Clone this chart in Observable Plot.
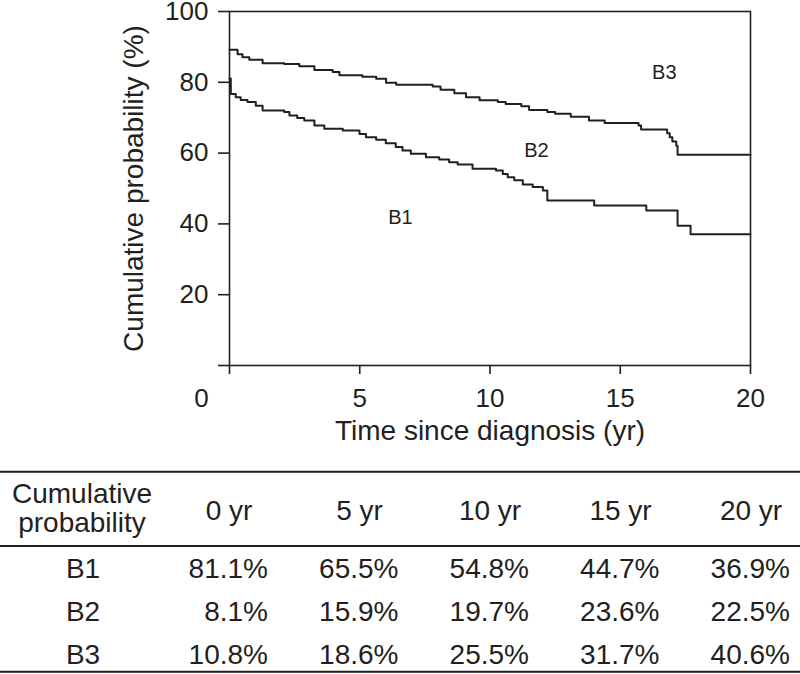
<!DOCTYPE html>
<html>
<head>
<meta charset="utf-8">
<script src="https://cdn.jsdelivr.net/npm/d3@7"></script>
<script src="https://cdn.jsdelivr.net/npm/@observablehq/plot@0.6"></script>
<style>
  html, body { margin: 0; padding: 0; background: #fff; }
  #chart svg, #table svg { display: block; }
</style>
</head>
<body>
<div id="chart"></div>
<div id="table"></div>
<script>
// ---- Data ----
const xTicks = [0, 5, 10, 15, 20];
const yTicks = [0, 20, 40, 60, 80, 100];

// Lower step curve (boundary B1 / B2)
const lowerT = [0, 0.05, 0.24, 0.43, 0.69, 1.01, 1.27, 2.1, 2.3, 2.6, 2.87, 3.26, 3.64, 4.35, 4.99, 5.24, 5.63, 6.0, 6.38, 6.64, 6.96, 7.54, 8.05, 8.43, 8.76, 9.33, 10.23, 10.49, 10.68, 10.93, 11.26, 11.64, 12.03, 12.2, 14.0, 16.0, 17.2, 17.7, 20];
const lowerV = [81.1, 76.7, 75.8, 75.0, 74.4, 73.4, 72.0, 71.6, 70.6, 69.9, 69.2, 67.8, 66.9, 66.4, 65.4, 64.5, 63.8, 62.8, 61.7, 60.7, 59.8, 58.8, 58.2, 57.4, 56.8, 55.6, 55.1, 54.1, 53.2, 52.3, 51.1, 50.4, 49.4, 46.6, 45.2, 43.8, 39.5, 37.1, 37.1];

// Upper step curve (boundary B2 / B3)
const upperT = [0, 0.31, 0.5, 0.76, 1.27, 2.1, 2.68, 3.26, 3.96, 4.22, 5.1, 5.63, 6.01, 6.4, 7.8, 8.1, 8.63, 9.08, 9.6, 10.3, 10.6, 11.2, 11.5, 12.2, 12.5, 13.1, 13.8, 14.4, 15.7, 15.8, 16.8, 16.9, 17.0, 17.15, 17.2, 20];
const upperV = [89.2, 87.9, 87.1, 86.4, 85.4, 85.2, 84.5, 83.5, 82.9, 82.0, 81.6, 81.0, 79.9, 79.3, 78.8, 77.9, 76.9, 75.8, 74.9, 74.4, 73.9, 73.2, 72.2, 71.6, 71.1, 70.3, 69.2, 68.5, 67.8, 66.7, 65.6, 64.5, 63.3, 62.1, 59.5, 59.5];

// Region labels
const regionNames = ["B1", "B2", "B3"];
const regionT = [6.56, 11.78, 16.69];
const regionV = [41.8, 60.7, 82.7];

// Table
const tableHeader = ["0 yr", "5 yr", "10 yr", "15 yr", "20 yr"];
const tableRows = ["B1", "B2", "B3"];
const rowB1 = ["81.1%", "65.5%", "54.8%", "44.7%", "36.9%"];
const rowB2 = ["8.1%", "15.9%", "19.7%", "23.6%", "22.5%"];
const rowB3 = ["10.8%", "18.6%", "25.5%", "31.7%", "40.6%"];

// ---- Build ----
const INK = "#231f20";
const FONT = "'Liberation Sans', Arial, Helvetica, sans-serif";

const lower = lowerT.map((t, i) => ({t, v: lowerV[i]}));
const upper = upperT.map((t, i) => ({t, v: upperV[i]}));
const regions = regionNames.map((s, i) => ({s, t: regionT[i], v: regionV[i]}));

const chart = Plot.plot({
  width: 800,
  height: 460,
  marginTop: 11,
  marginBottom: 95,
  marginLeft: 229,
  marginRight: 50,
  style: {fontFamily: FONT, color: INK, background: "#fff", overflow: "visible"},
  x: {domain: [0, 20]},
  y: {domain: [0, 100]},
  marks: [
    Plot.frame({stroke: INK, strokeWidth: 1.6}),
    Plot.axisY({ticks: yTicks, tickSize: 11, tickPadding: 10, strokeWidth: 1.6,
      tickFormat: d => d === 0 ? "" : String(d), fontSize: 26, label: null}),
    Plot.axisX({ticks: xTicks, tickSize: 9, tickPadding: 14, strokeWidth: 1.6,
      tickFormat: d => d === 0 ? "" : String(d), fontSize: 26, label: null}),
    Plot.text([{t: 0, v: 0, s: "0"}], {x: "t", y: "v", text: "s", dx: -28, dy: 23,
      lineAnchor: "top", fontSize: 26, fill: INK}),
    Plot.line(upper, {x: "t", y: "v", curve: "step-after", stroke: INK, strokeWidth: 2}),
    Plot.line(lower, {x: "t", y: "v", curve: "step-after", stroke: INK, strokeWidth: 2}),
    Plot.text(regions, {x: "t", y: "v", text: "s", fontSize: 20, fill: INK}),
    Plot.text(["Cumulative probability (%)"], {text: d => d, frameAnchor: "left", rotate: -90,
      textAnchor: "middle", lineAnchor: "bottom", dx: -87, fontSize: 28, fill: INK}),
    Plot.text(["Time since diagnosis (yr)"], {text: d => d, frameAnchor: "bottom",
      textAnchor: "middle", lineAnchor: "bottom", dy: 74, fontSize: 28, fill: INK})
  ]
});
document.getElementById("chart").appendChild(chart);

// ---- Table ----
const numRight = [268, 398.5, 529, 659.5, 790];
const rowBase = [117.5, 160.5, 203.5];
const rowsData = [rowB1, rowB2, rowB3];
const tsvg = d3.select("#table").append("svg")
  .attr("width", 800).attr("height", 214)
  .style("font-family", FONT).style("font-size", "28px").attr("fill", INK);

[11.7, 86, 211.7].forEach(y => {
  tsvg.append("line").attr("x1", 0).attr("x2", 800).attr("y1", y).attr("y2", y)
    .attr("stroke", INK).attr("stroke-width", 2);
});
tsvg.append("text").attr("x", 82).attr("y", 43.3).attr("text-anchor", "middle").text("Cumulative");
tsvg.append("text").attr("x", 82).attr("y", 71.7).attr("text-anchor", "middle").text("probability");
tableHeader.forEach((h, j) => {
  tsvg.append("text").attr("x", numRight[j] - 39).attr("y", 60).attr("text-anchor", "middle").text(h);
});
tableRows.forEach((r, i) => {
  tsvg.append("text").attr("x", 83).attr("y", rowBase[i]).attr("text-anchor", "middle").text(r);
  rowsData[i].forEach((val, j) => {
    tsvg.append("text").attr("x", numRight[j]).attr("y", rowBase[i]).attr("text-anchor", "end").text(val);
  });
});
</script>
</body>
</html>
